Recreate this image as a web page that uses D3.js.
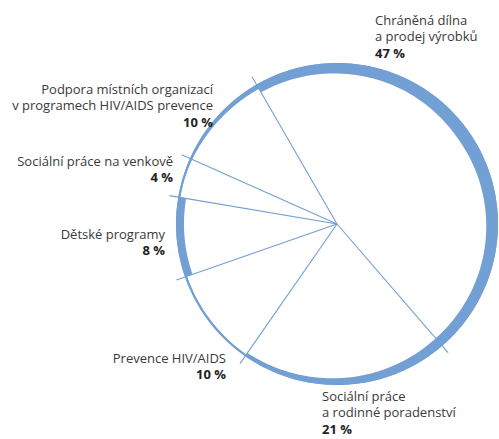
<!DOCTYPE html>
<html>
<head>
<meta charset="utf-8">
<script src="https://cdn.jsdelivr.net/npm/d3@7"></script>
<style>
  body { margin: 0; background: #fff; }
  text { font-family: "Open Sans", sans-serif; fill: #3a3a3a; }
  .pct { font-weight: bold; fill: #222; }
</style>
</head>
<body>
<script>
// Data
var categories = [
  ["Chráněná dílna", "a prodej výrobků"],
  ["Sociální práce", "a rodinné poradenství"],
  ["Prevence HIV/AIDS"],
  ["Dětské programy"],
  ["Sociální práce na venkově"],
  ["Podpora místních organizací", "v programech HIV/AIDS prevence"]
];
var values = [47, 21, 10, 8, 4, 10];

// ring thickness along each slice (start, middle, end) - just styling
var ringWidths = [[9, 13, 10], [10, 7, 4], [2, 2, 2], [8, 8, 8], [2, 2, 2.5], [2.5, 4, 5]];

// label anchor per slice: x, y of first baseline, text anchor
var labelPos = [
  [375, 25, "start"],
  [322, 401, "start"],
  [226, 363, "end"],
  [165, 239, "end"],
  [173, 166, "end"],
  [213, 94, "end"]
];

var width = 499, height = 439;
var cx = 337, cy = 224, R = 161, lineR = 170;
var blue = "#729fd4";

var svg = d3.select("body")
  .append("svg")
    .attr("width", width)
    .attr("height", height);

var g = svg.append("g")
  .attr("transform", "translate(" + cx + "," + cy + ")");

var start = -30 * Math.PI / 180;
var pie = d3.pie()
  .sort(null)
  .startAngle(start)
  .endAngle(start + 2 * Math.PI)
  .value(function(d) { return d; });

var arcs = pie(values);

// ring pieces with tapering thickness
var ring = d3.areaRadial()
  .angle(function(d) { return d.a; })
  .outerRadius(R)
  .innerRadius(function(d) { return R - d.w; })
  .curve(d3.curveLinear);

arcs.forEach(function(a, i) {
  var w = d3.scaleLinear().domain([0, 0.5, 1]).range(ringWidths[i]);
  var pts = d3.range(0, 1.0001, 0.01).map(function(t) {
    return { a: a.startAngle + t * (a.endAngle - a.startAngle), w: w(t) };
  });
  g.append("path")
    .attr("d", ring(pts))
    .attr("fill", blue);
});

// thin full circle under everything
g.append("circle")
  .attr("r", R - 1)
  .attr("fill", "none")
  .attr("stroke", blue)
  .attr("stroke-width", 2);

// slice boundaries
g.selectAll("line.sep")
  .data(arcs)
  .enter().append("line")
    .attr("class", "sep")
    .attr("x1", 0).attr("y1", 0)
    .attr("x2", function(d) { return lineR * Math.sin(d.startAngle); })
    .attr("y2", function(d) { return -lineR * Math.cos(d.startAngle); })
    .attr("stroke", blue)
    .attr("stroke-width", 1.1);

// labels
var lh = 16.3;
arcs.forEach(function(a, i) {
  var p = labelPos[i];
  var t = svg.append("text")
    .attr("x", p[0])
    .attr("y", p[1])
    .attr("text-anchor", p[2])
    .style("font-size", "13px");
  categories[i].forEach(function(line, k) {
    t.append("tspan")
      .attr("x", p[0])
      .attr("y", p[1] + k * lh)
      .text(line);
  });
  t.append("tspan")
    .attr("class", "pct")
    .attr("x", p[0])
    .attr("y", p[1] + categories[i].length * lh)
    .text(values[i] + " %");
});
</script>
</body>
</html>
